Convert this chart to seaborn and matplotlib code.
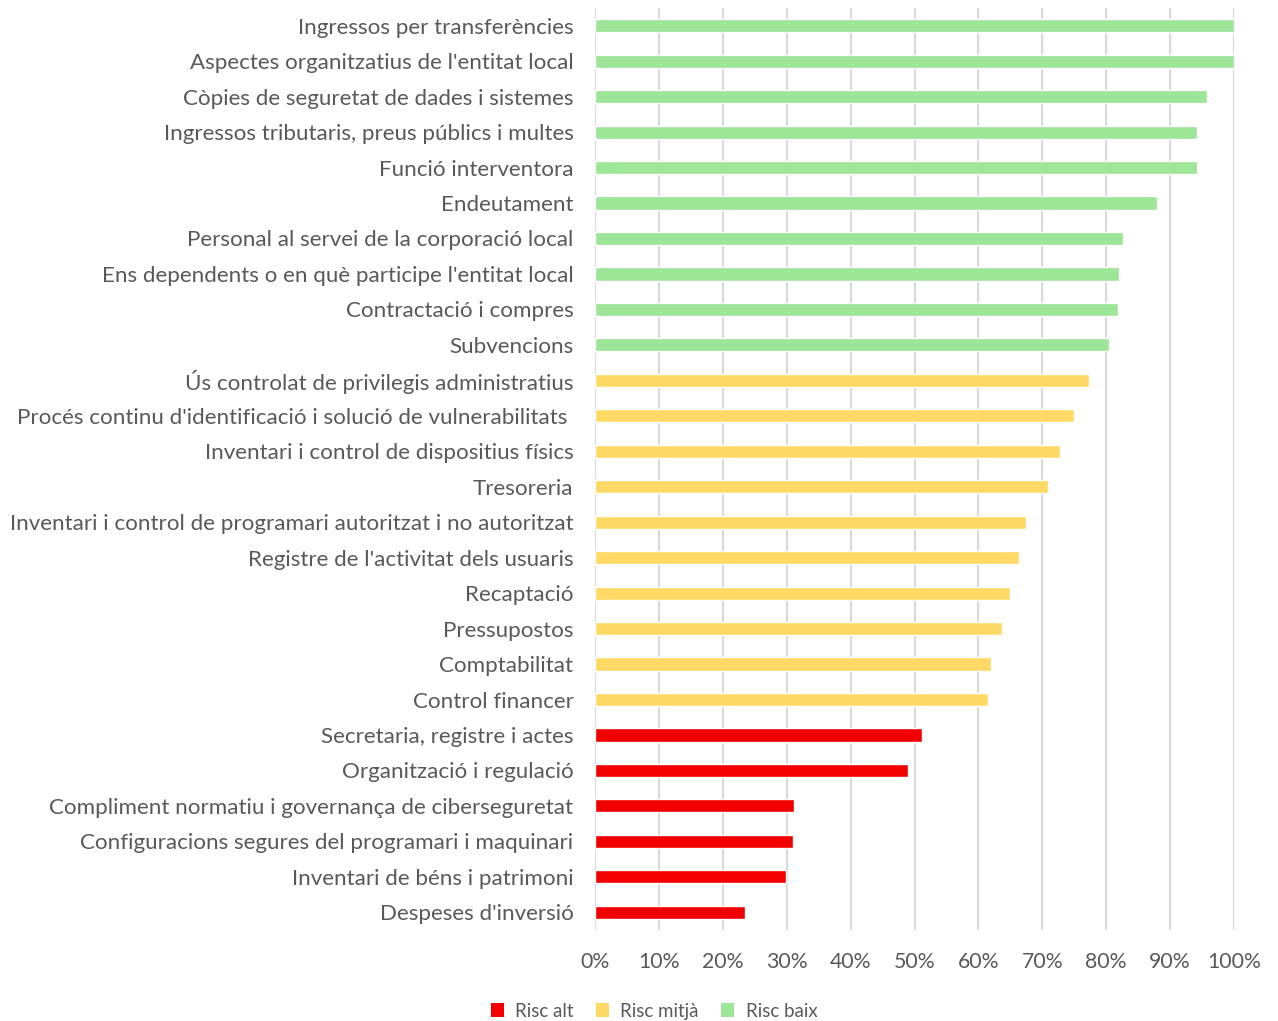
import matplotlib
matplotlib.use("Agg")
import matplotlib.pyplot as plt
import seaborn as sns
import pandas as pd
from matplotlib.patches import Patch
from matplotlib.ticker import FuncFormatter

categories = [
    "Ingressos per transferències",
    "Aspectes organitzatius de l'entitat local",
    "Còpies de seguretat de dades i sistemes",
    "Ingressos tributaris, preus públics i multes",
    "Funció interventora",
    "Endeutament",
    "Personal al servei de la corporació local",
    "Ens dependents o en què participe l'entitat local",
    "Contractació i compres",
    "Subvencions",
    "Ús controlat de privilegis administratius",
    "Procés continu d'identificació i solució de vulnerabilitats ",
    "Inventari i control de dispositius físics",
    "Tresoreria",
    "Inventari i control de programari autoritzat i no autoritzat",
    "Registre de l'activitat dels usuaris",
    "Recaptació",
    "Pressupostos",
    "Comptabilitat",
    "Control financer",
    "Secretaria, registre i actes",
    "Organització i regulació",
    "Compliment normatiu i governança de ciberseguretat",
    "Configuracions segures del programari i maquinari",
    "Inventari de béns i patrimoni",
    "Despeses d'inversió",
]
values = [100.0, 100.0, 95.8, 94.2, 94.2, 88.0, 82.6, 82.0, 81.8, 80.4,
          77.3, 75.0, 72.8, 70.9, 67.4, 66.4, 64.9, 63.7, 62.0, 61.5,
          51.2, 49.0, 31.1, 31.0, 29.9, 23.5]
risk = (["Risc baix"] * 10) + (["Risc mitjà"] * 10) + (["Risc alt"] * 6)
risk_order = ["Risc alt", "Risc mitjà", "Risc baix"]
colors = {"Risc alt": "#F20000", "Risc mitjà": "#FFD965", "Risc baix": "#9DE597"}
xticks = [0, 10, 20, 30, 40, 50, 60, 70, 80, 90, 100]

df = pd.DataFrame({"cat": categories, "val": values, "risk": risk})

sns.set_theme(style="white")
plt.rcParams['font.family'] = ['Lato', 'DejaVu Sans']
text_color = "#595959"

fig = plt.figure(figsize=(12.78, 10.21), dpi=100)
ax = fig.add_axes([595/1278, 1-930/1021, (1234-595)/1278, (930-8)/1021])

sns.barplot(data=df, y="cat", x="val", hue="risk", hue_order=risk_order,
            palette=colors, order=categories, dodge=False, width=0.37,
            orient="h", ax=ax, legend=False, saturation=1)

ax.set_xlim(0, 100)
ax.set_xticks(xticks)
ax.xaxis.set_major_formatter(FuncFormatter(lambda v, p: f"{int(v)}%"))
ax.grid(axis="x", color="#D9D9D9", linewidth=1.5)
ax.grid(axis="y", visible=False)
ax.set_axisbelow(True)
for s in ax.spines.values():
    s.set_visible(False)
ax.set_xlabel("")
ax.set_ylabel("")
ax.tick_params(axis="both", length=0)
ax.tick_params(axis="y", labelsize=16.1, labelcolor=text_color, pad=15.5)
ax.tick_params(axis="x", labelsize=15.3, labelcolor=text_color, pad=16)

handles = [Patch(facecolor=colors[r], edgecolor="none") for r in risk_order]
fig.legend(handles, risk_order, loc="center", bbox_to_anchor=(654/1278, 1-1011/1021),
           ncol=3, frameon=False, fontsize=13.5, labelcolor=text_color,
           handlelength=0.7, handleheight=0.7, handletextpad=0.6, columnspacing=1.2)

fig.savefig("out.png", dpi=100)
